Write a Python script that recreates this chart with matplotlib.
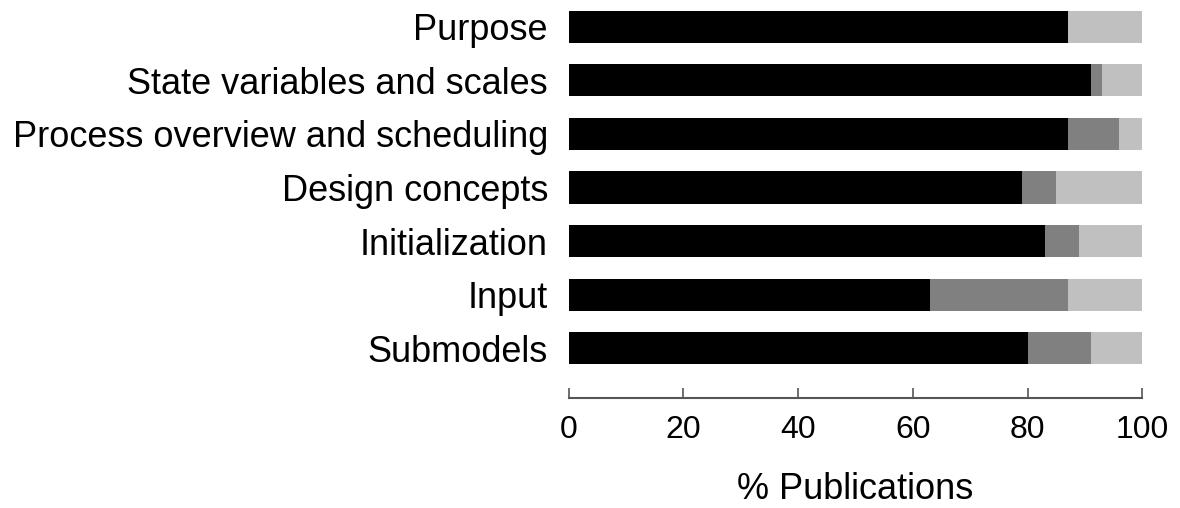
import numpy as np
import matplotlib
matplotlib.use("Agg")
import matplotlib.pyplot as plt

plt.rcParams["font.family"] = ["Liberation Sans", "DejaVu Sans"]

# Dados
categorias = ["Purpose", "State variables and scales", "Process overview and scheduling",
              "Design concepts", "Initialization", "Input", "Submodels"]
completo = [87, 91, 87, 79, 83, 63, 80]
parcial = [0, 2, 9, 6, 6, 24, 11]
ausente = [100 - a - b for a, b in zip(completo, parcial)]

fig = plt.figure(figsize=(11.8, 5.08), dpi=100)
ax = fig.add_axes([0.482, 0.2165, 0.486, 0.7835])

y = np.arange(len(categorias))
altura = 0.6
ax.barh(y, completo, height=altura, color="black")
ax.barh(y, parcial, left=completo, height=altura, color="#808080")
ax.barh(y, ausente, left=np.array(completo) + np.array(parcial), height=altura, color="#c0c0c0")

ax.set_xlim(0, 100)
ax.set_ylim(6.93, -0.5)
ax.set_yticks(y)
ax.set_yticklabels(categorias, fontsize=26)
ax.tick_params(axis="y", length=0, pad=15)
ax.set_xticks([0, 20, 40, 60, 80, 100])
ax.tick_params(axis="x", direction="in", length=7, width=1.2, color="#555555",
               labelsize=23, pad=12)
ax.set_xlabel("% Publications", fontsize=26, labelpad=20)

for s in ["top", "right", "left"]:
    ax.spines[s].set_visible(False)
ax.spines["bottom"].set_color("#555555")
ax.spines["bottom"].set_linewidth(1.5)

fig.savefig("out.png", dpi=100)
